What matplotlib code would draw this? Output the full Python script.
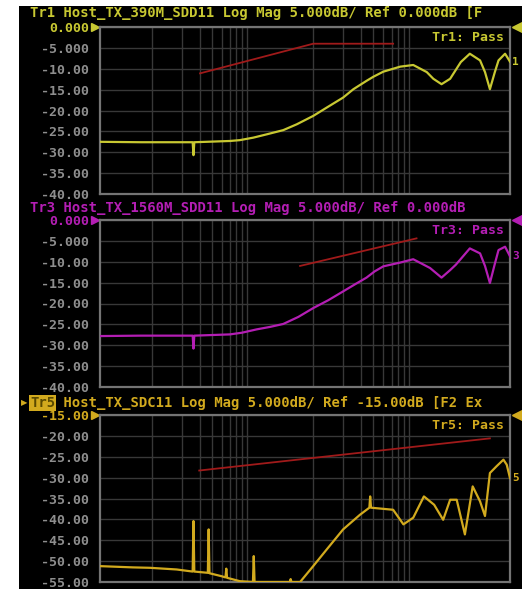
import matplotlib
matplotlib.use("Agg")
import matplotlib.pyplot as plt
from matplotlib.patches import Rectangle

# ---------------- data ----------------
# x = sweep position in % of the display width
grid_x = [12.7, 20.0, 24.4, 27.3, 29.8, 31.7, 33.2, 34.6, 35.8,
          52.0, 59.3, 63.7, 66.7, 69.1, 71.1, 72.7, 74.1, 75.4]

tr1_x = [0, 10, 22.6, 22.8, 23.0, 31.7, 34.1, 37.4, 40.7, 44.7, 48.0, 52.0, 55.3, 59.3, 61.8, 65.0,
         66.7, 69.1, 73.2, 76.4, 79.7, 81.3, 83.3, 85.4, 88.0, 90.2, 92.7, 93.9, 95.1, 96.3, 97.2, 98.8, 100]
tr1_y = [-27.5, -27.6, -27.6, -30.7, -27.6, -27.3, -27.1, -26.5, -25.7, -24.7, -23.3, -21.3, -19.3, -16.9, -14.9, -12.9,
         -11.9, -10.7, -9.5, -9.1, -10.8, -12.4, -13.7, -12.4, -8.4, -6.4, -8.0, -10.8, -14.9, -10.8, -8.0, -6.4, -8.3]
lim1_x = [24.4, 52.0, 71.5]
lim1_y = [-11.1, -4.0, -4.0]

tr3_x = [0, 10, 22.6, 22.8, 23.0, 31.7, 34.6, 38.2, 41.5, 44.7, 48.4, 52.0, 55.7, 59.3, 62.2, 65.0,
         67.0, 69.1, 73.2, 76.4, 80.5, 83.3, 85.4, 86.8, 90.2, 92.7, 93.9, 95.1, 96.3, 97.2, 98.8, 100]
tr3_y = [-27.8, -27.7, -27.7, -30.8, -27.7, -27.4, -27.0, -26.2, -25.6, -24.9, -23.2, -21.1, -19.2, -17.1, -15.4, -13.8,
         -12.3, -11.1, -10.2, -9.4, -11.5, -13.8, -12.0, -10.7, -6.8, -8.0, -11.0, -15.1, -10.5, -7.2, -6.4, -8.7]
lim3_x = [48.8, 77.2]
lim3_y = [-11.0, -4.4]

tr5_x = [0, 8, 12.2, 18.7, 22.6, 22.8, 23.0, 26.3, 26.5, 26.7, 29.6, 30.6, 30.8, 31.0, 34.1,
         37.3, 37.5, 37.7, 46.3, 46.5, 46.7, 48.8, 52.0, 55.3, 59.3, 63.4, 65.7, 65.9, 66.1,
         71.5, 74.0, 76.4, 79.0, 81.5, 83.7, 85.4, 87.0, 89.0, 90.9, 92.7, 93.9, 95.1, 96.7,
         98.4, 99.2, 100]
tr5_y = [-51.2, -51.5, -51.6, -52.0, -52.5, -40.4, -52.5, -52.8, -42.4, -52.9, -53.6, -53.9, -51.8, -54.0, -54.8,
         -55.0, -48.8, -55.0, -55.0, -54.3, -55.0, -55.0, -51.2, -47.2, -42.4, -38.9, -37.2, -34.5, -37.2,
         -37.7, -41.2, -39.6, -34.5, -36.5, -40.1, -35.3, -35.3, -43.6, -32.1, -35.7, -39.2, -28.9, -27.3,
         -25.7, -26.9, -30.1]
lim5_x = [24.2, 95.1]
lim5_y = [-28.3, -20.6]

panels = [
    dict(title="Tr1 Host_TX_390M_SDD11 Log Mag 5.000dB/ Ref 0.000dB [F", tag="Tr1",
         ref=0.0, ticks=["0.000", "-5.000", "-10.00", "-15.00", "-20.00", "-25.00", "-30.00", "-35.00", "-40.00"],
         x=tr1_x, y=tr1_y, lx=lim1_x, ly=lim1_y, color="#c8c832", num="1", highlight=False),
    dict(title="Tr3 Host_TX_1560M_SDD11 Log Mag 5.000dB/ Ref 0.000dB", tag="Tr3",
         ref=0.0, ticks=["0.000", "-5.000", "-10.00", "-15.00", "-20.00", "-25.00", "-30.00", "-35.00", "-40.00"],
         x=tr3_x, y=tr3_y, lx=lim3_x, ly=lim3_y, color="#b41eb4", num="3", highlight=False),
    dict(title="Tr5 Host_TX_SDC11 Log Mag 5.000dB/ Ref -15.00dB [F2 Ex", tag="Tr5",
         ref=-15.0, ticks=["-15.00", "-20.00", "-25.00", "-30.00", "-35.00", "-40.00", "-45.00", "-50.00", "-55.00"],
         x=tr5_x, y=tr5_y, lx=lim5_x, ly=lim5_y, color="#d2aa1e", num="5", highlight=True),
]

# ---------------- figure ----------------
W, H = 522, 589
fig = plt.figure(figsize=(W / 100, H / 100), dpi=100, facecolor="white")
fig.patches.append(Rectangle((19 / W, 0), 1 - 19 / W, (H - 6) / H, transform=fig.transFigure,
                             facecolor="black", edgecolor="none", zorder=-10))

mono = dict(family="DejaVu Sans Mono", weight="bold")
tops = [27, 220, 415]
title_px = [13, 208, 403]
ph = 167
for p, top, tpx in zip(panels, tops, title_px):
    ax = fig.add_axes([100 / W, (H - top - ph) / H, 410 / W, ph / H])
    ax.set_facecolor("black")
    ax.set_xlim(0, 100)
    ax.set_ylim(p["ref"] - 40, p["ref"])
    ax.set_xticks(grid_x)
    ax.set_yticks([p["ref"] - 5 * i for i in range(9)])
    ax.set_yticklabels(p["ticks"])
    ax.tick_params(axis="x", length=0, labelbottom=False)
    ax.tick_params(axis="y", length=0, pad=8, labelcolor="#8e8e8e", labelsize=9.5)
    for lab in ax.get_yticklabels():
        lab.set_fontfamily("DejaVu Sans Mono")
        lab.set_fontweight("bold")
    ax.get_yticklabels()[0].set_color(p["color"])
    ax.grid(True, color="#383838", linewidth=1.0)
    for s in ax.spines.values():
        s.set_color("#747474")
        s.set_linewidth(1.6)
    ax.plot(p["lx"], p["ly"], color="#a01a1a", linewidth=1.3, zorder=3)
    ax.plot(p["x"], p["y"], color=p["color"], linewidth=1.6, zorder=4, clip_on=True)
    # markers
    ax.plot([-0.012], [1.0], marker=">", color=p["color"], markersize=6, transform=ax.transAxes, clip_on=False)
    ax.plot([1.018], [1.0], marker="<", color=p["color"], markersize=7, transform=ax.transAxes, clip_on=False)
    ax.text(1.006, p["y"][-1], p["num"], color=p["color"], fontsize=8, va="center", ha="left",
            transform=ax.get_yaxis_transform(), clip_on=False, **mono)
    ax.text(0.985, 0.94, p["tag"] + ": Pass", color=p["color"], fontsize=9.5, ha="right", va="center",
            transform=ax.transAxes, **mono)
    # title
    ty = (H - tpx) / H
    if p["highlight"]:
        fig.text(30 / W, ty, "   " + p["title"][3:], color=p["color"], fontsize=10, va="center", ha="left", **mono)
        fig.text(30 / W, ty, p["tag"], color="#5a4a00", fontsize=10, va="center", ha="left",
                 bbox=dict(boxstyle="square,pad=0.05", facecolor=p["color"], edgecolor="none"), **mono)
        fig.text(20.5 / W, ty, "\u25B6", color=p["color"], fontsize=6, va="center", ha="left", family="DejaVu Sans")
    else:
        fig.text(30 / W, ty, p["title"], color=p["color"], fontsize=10, va="center", ha="left", **mono)

fig.savefig("out.png", dpi=100, facecolor="white")
